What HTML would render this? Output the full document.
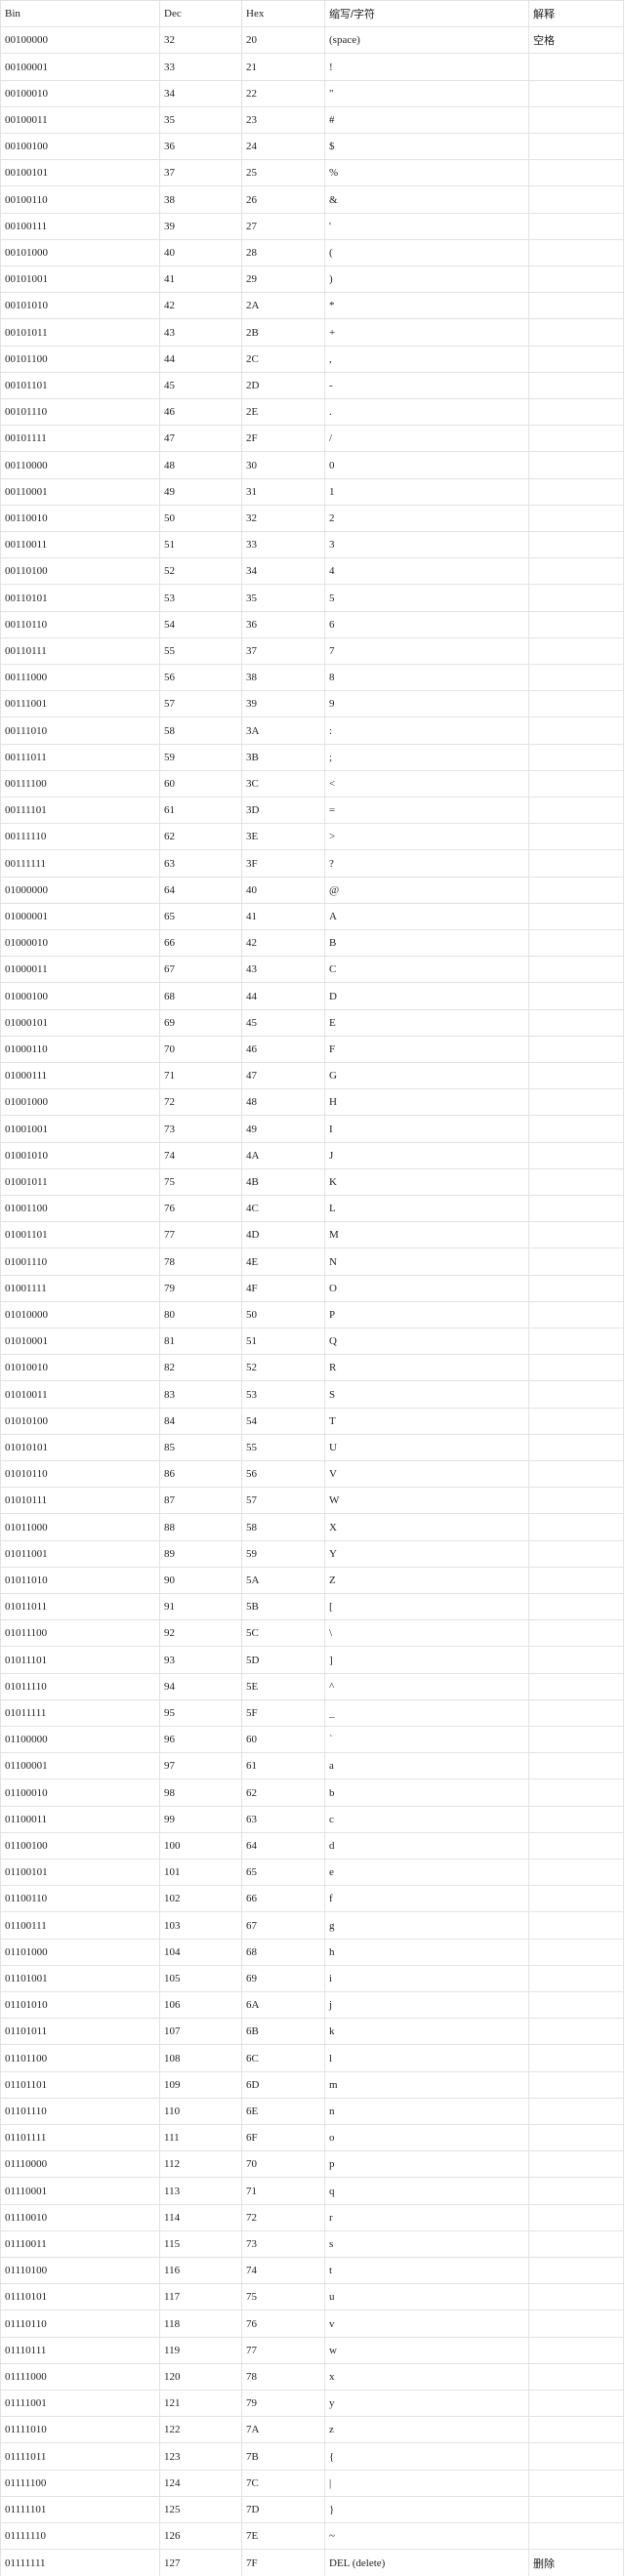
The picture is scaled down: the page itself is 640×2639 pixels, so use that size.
<!DOCTYPE html>
<html><head><meta charset="utf-8">
<style>
html,body{margin:0;padding:0;background:#fff;width:640px;height:2639px;overflow:hidden}
#t{position:relative;width:640px;height:2639px;font-family:"Liberation Serif","Noto Sans CJK SC",serif;font-size:11px;color:#222}
.row{position:absolute;left:0;width:639px;border-top:1px solid #e2e2e2;box-sizing:border-box}
.c{position:absolute;top:0;height:100%;display:flex;align-items:center;padding-left:4px;box-sizing:border-box;border-left:1px solid #e2e2e2;white-space:nowrap}
.cjk{font-family:"Liberation Sans","Noto Sans CJK SC",sans-serif;font-size:11px}
.last{border-right:1px solid #e2e2e2}
</style></head><body>
<div id="t"></div>
<script>
const headers=["Bin","Dec","Hex","缩写/字符","解释"];
const notes={32:"空格",127:"删除"};
const colX=[0,163,247,332,541];
const colW=[163,84,85,209,98];
const N=97, H=2638.5/N;
const t=document.getElementById('t');
function mk(rowIdx,vals,name){
  const r=document.createElement('div');
  r.className='row';
  
  
  const top=Math.round(rowIdx*H), bot=Math.round((rowIdx+1)*H);
  r.style.top=top+'px';r.style.height=(bot-top+(rowIdx==N-1?1:0))+'px';
  if(rowIdx==N-1)r.style.borderBottom='1px solid #e2e2e2';
  vals.forEach((v,i)=>{
    const c=document.createElement('div');
    c.className='c'+(i==4?' last':'')+(/[\u4e00-\u9fff]/.test(v)?' cjk':'');
    
    
    c.style.left=colX[i]+'px';c.style.width=colW[i]+'px';
    c.textContent=v;r.appendChild(c);
  });
  t.appendChild(r);
}
mk(0,headers,'header-row');
for(let n=32;n<=127;n++){
  let ch=n==32?"(space)":n==127?"DEL (delete)":String.fromCharCode(n);
  mk(n-31,[n.toString(2).padStart(8,'0'),String(n),n.toString(16).toUpperCase(),ch,notes[n]||""],'row-'+n);
}
</script>
</body></html>
